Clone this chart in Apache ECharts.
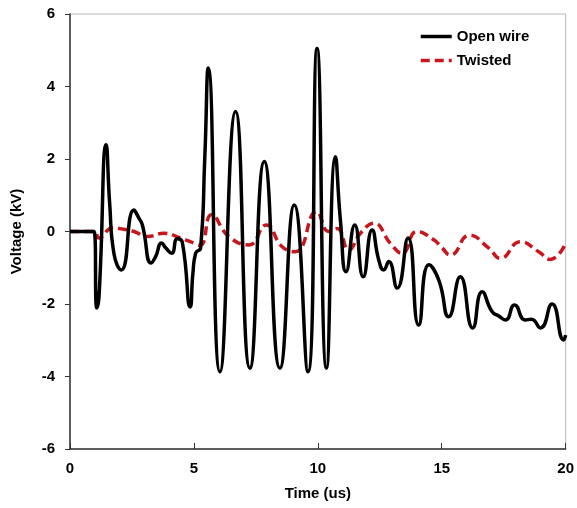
<!DOCTYPE html>
<html>
<head>
<meta charset="utf-8">
<script src="https://cdn.jsdelivr.net/npm/echarts@6/dist/echarts.min.js"></script>
<style>
  html, body { margin: 0; padding: 0; background: #fff; }
  #chart { width: 577px; height: 508px; }
</style>
</head>
<body>
<div id="chart"></div>
<script>
// Open wire trace (time in us, voltage in kV)
const openTime = [0, 0.97, 1.08, 1.17, 1.46, 1.6, 1.77, 2.07, 2.58, 2.78, 2.92, 3.28, 3.45, 3.7, 3.86, 4.1, 4.33, 4.53,
  4.85, 4.96, 5.07, 5.27, 5.44, 5.58, 6.05, 6.68, 7.26, 7.84, 8.47, 9.05, 9.6, 9.97, 10.35, 10.71, 10.91, 11.14,
  11.49, 11.83, 12.19, 12.46, 12.66, 12.86, 13.2, 13.64, 14.07, 14.48, 14.88, 15.28, 15.75, 16.25, 16.63, 17.03,
  17.3, 17.57, 17.94, 18.37, 18.62, 18.98, 19.45, 19.92, 20];
const openVolt = [0, 0, -2.11, -1.8, 2.39, 0.78, -0.6, -1.06, 0.59, 0.37, 0.18, -0.87, -0.7, -0.32, -0.45, -0.6, -0.2, -0.29,
  -2.08, -1.15, -0.6, -0.45, 2.06, 4.51, -3.87, 3.31, -3.77, 1.93, -3.77, 0.73, -3.87, 5.05, -3.77, 2.06, 0.32, -1.11,
  0.18, -1.25, 0.04, -0.79, -1.06, -0.83, -1.56, -0.18, -2.58, -0.92, -1.34, -2.35, -1.25, -2.66, -1.66, -2.21,
  -2.33, -2.44, -2.03, -2.44, -2.42, -2.66, -2.0, -2.99, -2.86];

// Twisted trace
const twistTime = [0, 0.97, 1.17, 1.71, 2.11, 2.58, 3.12, 3.79, 4.46, 4.85, 5.25, 5.71, 6.41, 7.22, 7.92, 8.56, 9.1, 9.95,
  10.44, 10.78, 11.25, 11.72, 12.26, 12.93, 13.4, 14.0, 14.68, 15.01, 15.35, 16.12, 16.9, 17.37, 18.17, 18.91, 19.38, 20];
const twistVolt = [0, 0, -0.18, 0.1, 0.07, 0, -0.14, -0.05, -0.18, -0.28, -0.38, 0.46, -0.14, -0.37, 0.18, -0.42, -0.56, 0.55,
  0, 0.08, -0.51, -0.05, 0.23, -0.33, -0.6, 0, -0.23, -0.45, -0.65, -0.1, -0.46, -0.74, -0.28, -0.56, -0.77, -0.33];

const xTicks = [0, 5, 10, 15, 20];
const yTicks = [-6, -4, -2, 0, 2, 4, 6];

const zip = (a, b) => a.map((t, i) => [t, b[i]]);

const font = 'Liberation Sans, Arial, sans-serif';

const chart = echarts.init(document.getElementById('chart'), null, { renderer: 'canvas' });

chart.setOption({
  animation: false,
  backgroundColor: '#fff',
  grid: {
    left: 70, right: 8, top: 14, bottom: 59,
    show: true, borderColor: '#b8b8b8', borderWidth: 1
  },
  legend: {
    orient: 'vertical',
    left: 414, top: 24,
    itemWidth: 31, itemHeight: 14, itemGap: 9,
    itemStyle: { opacity: 0 },
    lineStyle: { width: 3.5 },
    textStyle: { fontFamily: font, fontWeight: 'bold', fontSize: 15, color: '#000' },
    data: ['Open wire', 'Twisted']
  },
  xAxis: {
    type: 'value',
    min: xTicks[0], max: xTicks[xTicks.length - 1], interval: 5,
    name: 'Time (us)', nameLocation: 'middle', nameGap: 37,
    nameTextStyle: { fontFamily: font, fontWeight: 'bold', fontSize: 15, color: '#000' },
    axisLine: { onZero: false, lineStyle: { color: '#333', width: 1.5 } },
    axisTick: { inside: true, length: 6, lineStyle: { color: '#333' } },
    axisLabel: { margin: 12, fontFamily: font, fontWeight: 'bold', fontSize: 15, color: '#000' },
    splitLine: { show: false }
  },
  yAxis: {
    type: 'value',
    min: yTicks[0], max: yTicks[yTicks.length - 1], interval: 2,
    name: 'Voltage (kV)', nameLocation: 'middle', nameGap: 46,
    nameTextStyle: { fontFamily: font, fontWeight: 'bold', fontSize: 15, color: '#000' },
    axisLine: { show: true, onZero: false, lineStyle: { color: '#333', width: 1.5 } },
    axisTick: { show: true, length: 5, lineStyle: { color: '#333' } },
    axisLabel: { margin: 15, fontFamily: font, fontWeight: 'bold', fontSize: 15, color: '#000' },
    splitLine: { show: false }
  },
  series: [
    {
      name: 'Open wire', type: 'line', data: zip(openTime, openVolt),
      smooth: 0.55, symbol: 'none', z: 3,
      lineStyle: { color: '#000', width: 3.5 },
      itemStyle: { color: '#000' }
    },
    {
      name: 'Twisted', type: 'line', data: zip(twistTime, twistVolt),
      smooth: 0.5, symbol: 'none', z: 2,
      lineStyle: { color: '#c8161d', width: 3.5, type: [9, 5] },
      itemStyle: { color: '#c8161d' }
    }
  ]
});
</script>
</body>
</html>
